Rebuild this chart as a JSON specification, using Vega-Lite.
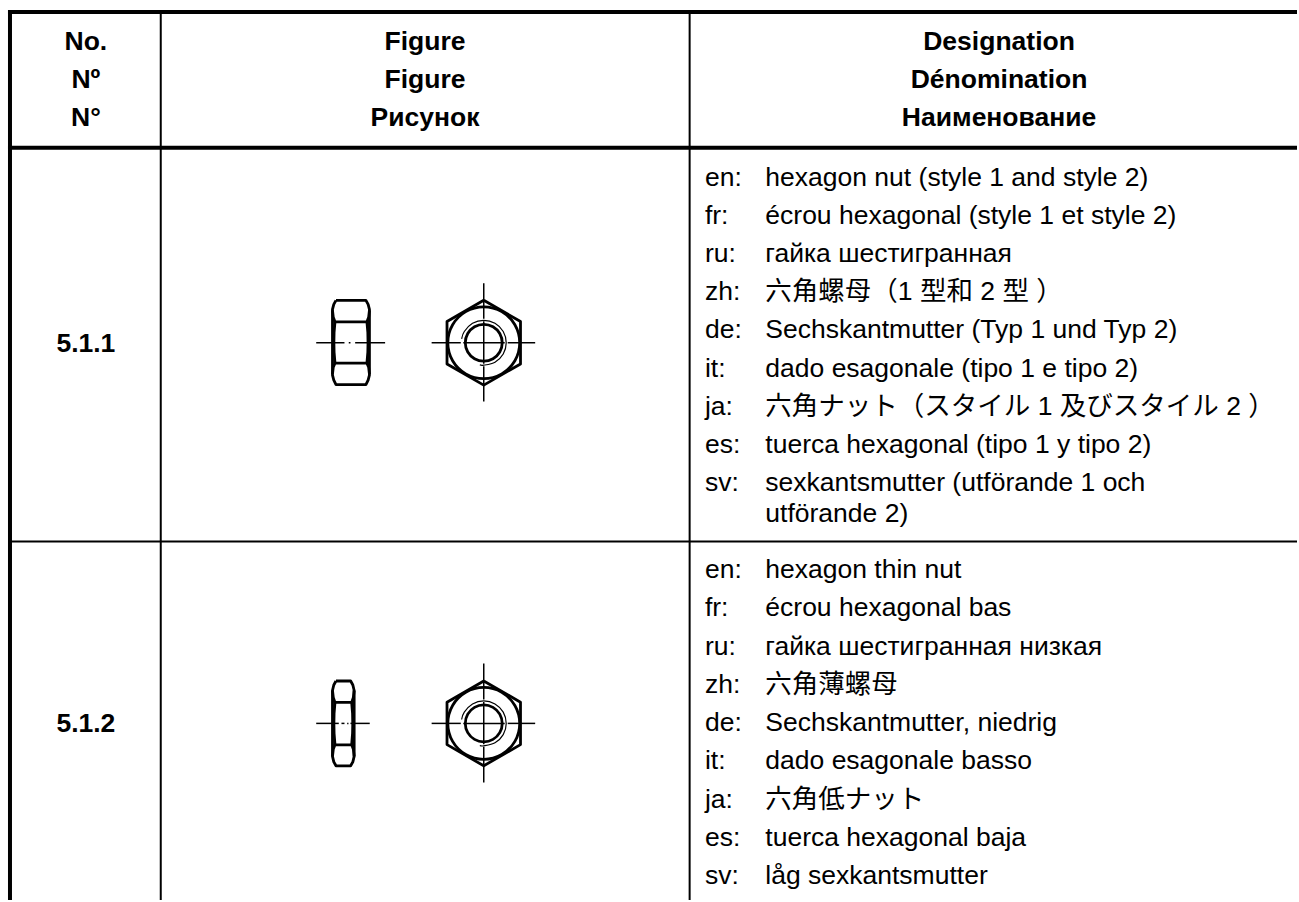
{
"$schema":"https://vega.github.io/schema/vega-lite/v6.json",
"width":1299,"height":902,
"autosize":{"type":"fit","contains":"padding"},
"padding":0,
"background":"white",
"config":{"view":{"stroke":null}},
"datasets":{
"grid":[
{"kind":"heavy","x":8,"x2":1299,"y":12,"y2":12},
{"kind":"heavy","x":8,"x2":1299,"y":148,"y2":148},
{"kind":"heavy","x":10,"x2":10,"y":10,"y2":902},
{"kind":"medium","x":161,"x2":161,"y":12,"y2":902},
{"kind":"medium","x":690.7,"x2":690.7,"y":12,"y2":902},
{"kind":"medium","x":10,"x2":1299,"y":542.7,"y2":542.7},
{"kind":"thin","x":432.3,"x2":461.5,"y":343.5,"y2":343.5},
{"kind":"thin","x":464,"x2":505.5,"y":343.5,"y2":343.5},
{"kind":"thin","x":508.5,"x2":536,"y":343.5,"y2":343.5},
{"kind":"thin","x":484.5,"x2":484.5,"y":284,"y2":319.5},
{"kind":"thin","x":484.5,"x2":484.5,"y":322,"y2":364.5},
{"kind":"thin","x":484.5,"x2":484.5,"y":367,"y2":402.3},
{"kind":"thin","x":316.7,"x2":345,"y":343.5,"y2":343.5},
{"kind":"thin","x":349.3,"x2":351,"y":343.5,"y2":343.5},
{"kind":"thin","x":355.7,"x2":385.7,"y":343.5,"y2":343.5},
{"kind":"thin","x":432.3,"x2":461.5,"y":725,"y2":725},
{"kind":"thin","x":464,"x2":505.5,"y":725,"y2":725},
{"kind":"thin","x":508.5,"x2":536,"y":725,"y2":725},
{"kind":"thin","x":484.5,"x2":484.5,"y":665,"y2":701},
{"kind":"thin","x":484.5,"x2":484.5,"y":703.5,"y2":746},
{"kind":"thin","x":484.5,"x2":484.5,"y":748.5,"y2":784.3},
{"kind":"thin","x":316.7,"x2":339.3,"y":725,"y2":725},
{"kind":"thin","x":342,"x2":345,"y":725,"y2":725},
{"kind":"thin","x":347.7,"x2":349,"y":725,"y2":725},
{"kind":"thin","x":351,"x2":370.3,"y":725,"y2":725}
],
"circles":[
{"c":"a1","i":0,"x":520.5,"y":343.5},{"c":"a1","i":1,"x":515.68,"y":325.5},{"c":"a1","i":2,"x":502.5,"y":312.32},{"c":"a1","i":3,"x":484.5,"y":307.5},{"c":"a1","i":4,"x":466.5,"y":312.32},{"c":"a1","i":5,"x":453.32,"y":325.5},{"c":"a1","i":6,"x":448.5,"y":343.5},{"c":"a1","i":7,"x":453.32,"y":361.5},{"c":"a1","i":8,"x":466.5,"y":374.68},{"c":"a1","i":9,"x":484.5,"y":379.5},{"c":"a1","i":10,"x":502.5,"y":374.68},{"c":"a1","i":11,"x":515.68,"y":361.5},
{"c":"b1","i":0,"x":503,"y":343.5},{"c":"b1","i":1,"x":500.52,"y":334.25},{"c":"b1","i":2,"x":493.75,"y":327.48},{"c":"b1","i":3,"x":484.5,"y":325},{"c":"b1","i":4,"x":475.25,"y":327.48},{"c":"b1","i":5,"x":468.48,"y":334.25},{"c":"b1","i":6,"x":466,"y":343.5},{"c":"b1","i":7,"x":468.48,"y":352.75},{"c":"b1","i":8,"x":475.25,"y":359.52},{"c":"b1","i":9,"x":484.5,"y":362},{"c":"b1","i":10,"x":493.75,"y":359.52},{"c":"b1","i":11,"x":500.52,"y":352.75},
{"c":"a2","i":0,"x":520.5,"y":725},{"c":"a2","i":1,"x":515.68,"y":707},{"c":"a2","i":2,"x":502.5,"y":693.82},{"c":"a2","i":3,"x":484.5,"y":689},{"c":"a2","i":4,"x":466.5,"y":693.82},{"c":"a2","i":5,"x":453.32,"y":707},{"c":"a2","i":6,"x":448.5,"y":725},{"c":"a2","i":7,"x":453.32,"y":743},{"c":"a2","i":8,"x":466.5,"y":756.18},{"c":"a2","i":9,"x":484.5,"y":761},{"c":"a2","i":10,"x":502.5,"y":756.18},{"c":"a2","i":11,"x":515.68,"y":743},
{"c":"b2","i":0,"x":503,"y":725},{"c":"b2","i":1,"x":500.52,"y":715.75},{"c":"b2","i":2,"x":493.75,"y":708.98},{"c":"b2","i":3,"x":484.5,"y":706.5},{"c":"b2","i":4,"x":475.25,"y":708.98},{"c":"b2","i":5,"x":468.48,"y":715.75},{"c":"b2","i":6,"x":466,"y":725},{"c":"b2","i":7,"x":468.48,"y":734.25},{"c":"b2","i":8,"x":475.25,"y":741.02},{"c":"b2","i":9,"x":484.5,"y":743.5},{"c":"b2","i":10,"x":493.75,"y":741.02},{"c":"b2","i":11,"x":500.52,"y":734.25}
],
"threads":[
{"c":"t1","i":0,"x":462.34,"y":339.59},{"c":"t1","i":1,"x":465.01,"y":332.25},{"c":"t1","i":2,"x":473.25,"y":324.01},{"c":"t1","i":3,"x":484.5,"y":321},{"c":"t1","i":4,"x":495.75,"y":324.01},{"c":"t1","i":5,"x":504,"y":332.25},{"c":"t1","i":6,"x":507,"y":343.5},{"c":"t1","i":7,"x":504,"y":354.75},{"c":"t1","i":8,"x":495.75,"y":362.99},{"c":"t1","i":9,"x":484.5,"y":366},{"c":"t1","i":10,"x":480.59,"y":365.66},
{"c":"t2","i":0,"x":462.34,"y":721.09},{"c":"t2","i":1,"x":465.01,"y":713.75},{"c":"t2","i":2,"x":473.25,"y":705.51},{"c":"t2","i":3,"x":484.5,"y":702.5},{"c":"t2","i":4,"x":495.75,"y":705.51},{"c":"t2","i":5,"x":504,"y":713.75},{"c":"t2","i":6,"x":507,"y":725},{"c":"t2","i":7,"x":504,"y":736.25},{"c":"t2","i":8,"x":495.75,"y":744.49},{"c":"t2","i":9,"x":484.5,"y":747.5},{"c":"t2","i":10,"x":480.59,"y":747.16}
],
"paths":[
{"c":"hex1","i":0,"x":484.5,"y":301},{"c":"hex1","i":1,"x":521.3,"y":322.25},{"c":"hex1","i":2,"x":521.3,"y":364.75},{"c":"hex1","i":3,"x":484.5,"y":386},{"c":"hex1","i":4,"x":447.7,"y":364.75},{"c":"hex1","i":5,"x":447.7,"y":322.25},{"c":"hex1","i":6,"x":484.5,"y":301},
{"c":"hex2","i":0,"x":484.5,"y":682.5},{"c":"hex2","i":1,"x":521.3,"y":703.75},{"c":"hex2","i":2,"x":521.3,"y":746.25},{"c":"hex2","i":3,"x":484.5,"y":767.5},{"c":"hex2","i":4,"x":447.7,"y":746.25},{"c":"hex2","i":5,"x":447.7,"y":703.75},{"c":"hex2","i":6,"x":484.5,"y":682.5},
{"c":"o1","i":0,"x":336.5,"y":301},{"c":"o1","i":1,"x":366.5,"y":301},{"c":"o1","i":2,"x":368.7,"y":305},{"c":"o1","i":3,"x":370,"y":310},{"c":"o1","i":4,"x":370,"y":376},{"c":"o1","i":5,"x":368.7,"y":381},{"c":"o1","i":6,"x":366.5,"y":385.5},{"c":"o1","i":7,"x":336.5,"y":385.5},{"c":"o1","i":8,"x":334.3,"y":381},{"c":"o1","i":9,"x":333,"y":376},{"c":"o1","i":10,"x":333,"y":310},{"c":"o1","i":11,"x":334.3,"y":305},{"c":"o1","i":12,"x":336.5,"y":301},
{"c":"u1","i":0,"x":333,"y":311},{"c":"u1","i":1,"x":333.8,"y":318},{"c":"u1","i":2,"x":335.5,"y":322.5},{"c":"u1","i":3,"x":367.5,"y":322.5},{"c":"u1","i":4,"x":369.2,"y":318},{"c":"u1","i":5,"x":370,"y":311},
{"c":"l1","i":0,"x":333,"y":375},{"c":"l1","i":1,"x":333.8,"y":368},{"c":"l1","i":2,"x":335.5,"y":364},{"c":"l1","i":3,"x":367.5,"y":364},{"c":"l1","i":4,"x":369.2,"y":368},{"c":"l1","i":5,"x":370,"y":375},
{"c":"il1","i":0,"x":335.5,"y":322.5},{"c":"il1","i":1,"x":334.6,"y":333},{"c":"il1","i":2,"x":334.4,"y":343},{"c":"il1","i":3,"x":334.6,"y":353},{"c":"il1","i":4,"x":335.5,"y":364},
{"c":"ir1","i":0,"x":367.5,"y":322.5},{"c":"ir1","i":1,"x":368.4,"y":333},{"c":"ir1","i":2,"x":368.6,"y":343},{"c":"ir1","i":3,"x":368.4,"y":353},{"c":"ir1","i":4,"x":367.5,"y":364},
{"c":"o2","i":0,"x":336.5,"y":682.5},{"c":"o2","i":1,"x":351.2,"y":682.5},{"c":"o2","i":2,"x":353.4,"y":686.5},{"c":"o2","i":3,"x":354.7,"y":692},{"c":"o2","i":4,"x":354.7,"y":758},{"c":"o2","i":5,"x":353.4,"y":763.5},{"c":"o2","i":6,"x":351.2,"y":767.5},{"c":"o2","i":7,"x":336.5,"y":767.5},{"c":"o2","i":8,"x":334.3,"y":763.5},{"c":"o2","i":9,"x":333,"y":758},{"c":"o2","i":10,"x":333,"y":692},{"c":"o2","i":11,"x":334.3,"y":686.5},{"c":"o2","i":12,"x":336.5,"y":682.5},
{"c":"u2","i":0,"x":333,"y":692},{"c":"u2","i":1,"x":333.8,"y":699},{"c":"u2","i":2,"x":335.5,"y":704},{"c":"u2","i":3,"x":352.2,"y":704},{"c":"u2","i":4,"x":353.9,"y":699},{"c":"u2","i":5,"x":354.7,"y":692},
{"c":"l2","i":0,"x":333,"y":758},{"c":"l2","i":1,"x":333.8,"y":751},{"c":"l2","i":2,"x":335.5,"y":746.5},{"c":"l2","i":3,"x":352.2,"y":746.5},{"c":"l2","i":4,"x":353.9,"y":751},{"c":"l2","i":5,"x":354.7,"y":758},
{"c":"il2","i":0,"x":335.5,"y":704},{"c":"il2","i":1,"x":334.6,"y":715},{"c":"il2","i":2,"x":334.4,"y":725},{"c":"il2","i":3,"x":334.6,"y":735},{"c":"il2","i":4,"x":335.5,"y":746.5},
{"c":"ir2","i":0,"x":352.2,"y":704},{"c":"ir2","i":1,"x":353.1,"y":715},{"c":"ir2","i":2,"x":353.3,"y":725},{"c":"ir2","i":3,"x":353.1,"y":735},{"c":"ir2","i":4,"x":352.2,"y":746.5}
],
"bold":[
{"t":"No.","x":86,"y":50},{"t":"Nº","x":86,"y":88.3},{"t":"N°","x":86,"y":126.7},
{"t":"Figure","x":425.7,"y":50},{"t":"Figure","x":425.7,"y":88.3},{"t":"Рисунок","x":425.7,"y":126.7},
{"t":"Designation","x":1000.6,"y":50},{"t":"Dénomination","x":1000.6,"y":88.3},{"t":"Наименование","x":1000.6,"y":126.7},
{"t":"5.1.1","x":86,"y":352.5},{"t":"5.1.2","x":86,"y":734}
],
"list":[
{"lang":"lat","t":"en:","x":706,"y":186},{"lang":"lat","t":"hexagon nut (style 1 and style 2)","x":766.5,"y":186},
{"lang":"lat","t":"fr:","x":706,"y":224.3},{"lang":"lat","t":"écrou hexagonal (style 1 et style 2)","x":766.5,"y":224.3},
{"lang":"lat","t":"ru:","x":706,"y":262.6},{"lang":"lat","t":"гайка шестигранная","x":766.5,"y":262.6},
{"lang":"lat","t":"zh:","x":706,"y":300.9},{"lang":"zh","t":"六角螺母（1 型和 2 型 ）","x":766.5,"y":300.9},
{"lang":"lat","t":"de:","x":706,"y":339.2},{"lang":"lat","t":"Sechskantmutter (Typ 1 und Typ 2)","x":766.5,"y":339.2},
{"lang":"lat","t":"it:","x":706,"y":377.5},{"lang":"lat","t":"dado esagonale (tipo 1 e tipo 2)","x":766.5,"y":377.5},
{"lang":"lat","t":"ja:","x":706,"y":415.8},{"lang":"ja","t":"六角ナット（スタイル 1 及びスタイル 2 ）","x":766.5,"y":415.8},
{"lang":"lat","t":"es:","x":706,"y":454.1},{"lang":"lat","t":"tuerca hexagonal (tipo 1 y tipo 2)","x":766.5,"y":454.1},
{"lang":"lat","t":"sv:","x":706,"y":492.4},{"lang":"lat","t":"sexkantsmutter (utförande 1 och","x":766.5,"y":492.4},
{"lang":"lat","t":"utförande 2)","x":766.5,"y":523},
{"lang":"lat","t":"en:","x":706,"y":579.5},{"lang":"lat","t":"hexagon thin nut","x":766.5,"y":579.5},
{"lang":"lat","t":"fr:","x":706,"y":617.8},{"lang":"lat","t":"écrou hexagonal bas","x":766.5,"y":617.8},
{"lang":"lat","t":"ru:","x":706,"y":656},{"lang":"lat","t":"гайка шестигранная низкая","x":766.5,"y":656},
{"lang":"lat","t":"zh:","x":706,"y":694.4},{"lang":"zh","t":"六角薄螺母","x":766.5,"y":694.4},
{"lang":"lat","t":"de:","x":706,"y":732.7},{"lang":"lat","t":"Sechskantmutter, niedrig","x":766.5,"y":732.7},
{"lang":"lat","t":"it:","x":706,"y":771},{"lang":"lat","t":"dado esagonale basso","x":766.5,"y":771},
{"lang":"lat","t":"ja:","x":706,"y":809.3},{"lang":"ja","t":"六角低ナット","x":766.5,"y":809.3},
{"lang":"lat","t":"es:","x":706,"y":847.6},{"lang":"lat","t":"tuerca hexagonal baja","x":766.5,"y":847.6},
{"lang":"lat","t":"sv:","x":706,"y":886},{"lang":"lat","t":"låg sexkantsmutter","x":766.5,"y":886}
]
},
"encoding":{
"x":{"field":"x","type":"quantitative","scale":{"domain":[0,1299],"nice":false,"zero":false},"axis":null},
"y":{"field":"y","type":"quantitative","scale":{"domain":[0,902],"reverse":true,"nice":false,"zero":false},"axis":null}
},
"layer":[
{"data":{"name":"grid"},"transform":[{"filter":"datum.kind==='heavy'"}],"mark":{"type":"rule","color":"black","strokeWidth":4},"encoding":{"x2":{"field":"x2"},"y2":{"field":"y2"}}},
{"data":{"name":"grid"},"transform":[{"filter":"datum.kind==='medium'"}],"mark":{"type":"rule","color":"black","strokeWidth":2},"encoding":{"x2":{"field":"x2"},"y2":{"field":"y2"}}},
{"data":{"name":"grid"},"transform":[{"filter":"datum.kind==='thin'"}],"mark":{"type":"rule","color":"black","strokeWidth":1.5},"encoding":{"x2":{"field":"x2"},"y2":{"field":"y2"}}},
{"data":{"name":"circles"},"mark":{"type":"line","color":"black","strokeWidth":2.8,"interpolate":"cardinal-closed","tension":0},"encoding":{"detail":{"field":"c"},"order":{"field":"i"}}},
{"data":{"name":"threads"},"mark":{"type":"line","color":"black","strokeWidth":1.2,"interpolate":"cardinal","tension":0},"encoding":{"detail":{"field":"c"},"order":{"field":"i"}}},
{"data":{"name":"paths"},"mark":{"type":"line","color":"black","strokeWidth":2.8,"strokeJoin":"round"},"encoding":{"detail":{"field":"c"},"order":{"field":"i"}}},
{"data":{"name":"bold"},"mark":{"type":"text","font":"Liberation Sans","fontWeight":"bold","fontSize":26.5,"align":"center","baseline":"alphabetic","color":"black"},"encoding":{"text":{"field":"t"}}},
{"data":{"name":"list"},"transform":[{"filter":"datum.lang==='lat'"}],"mark":{"type":"text","font":"Liberation Sans","fontSize":26.5,"align":"left","baseline":"alphabetic","color":"black"},"encoding":{"text":{"field":"t"}}},
{"data":{"name":"list"},"transform":[{"filter":"datum.lang==='zh'"}],"mark":{"type":"text","font":"Liberation Sans, Noto Sans CJK SC","fontSize":26.5,"align":"left","baseline":"alphabetic","color":"black"},"encoding":{"text":{"field":"t"}}},
{"data":{"name":"list"},"transform":[{"filter":"datum.lang==='ja'"}],"mark":{"type":"text","font":"Liberation Sans, Noto Sans CJK JP","fontSize":26.5,"align":"left","baseline":"alphabetic","color":"black"},"encoding":{"text":{"field":"t"}}}
]
}
